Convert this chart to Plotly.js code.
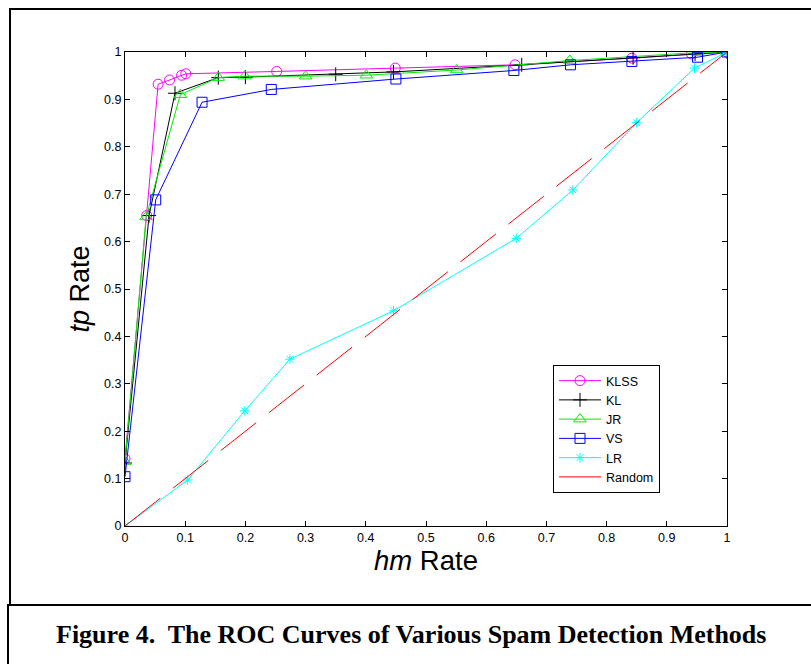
<!DOCTYPE html>
<html>
<head>
<meta charset="utf-8">
<script src="https://cdn.plot.ly/plotly-3.0.1.min.js"></script>
<style>html,body{margin:0;padding:0;background:#fff;}#chart{width:811px;height:664px;}</style>
</head>
<body>
<div id="chart"></div>
<script>
// ---- data ----
var klssX = [0, 0.036, 0.055, 0.074, 0.094, 0.101, 0.252, 0.449, 0.648, 0.842, 0.941, 1];
var klssY = [0.142, 0.655, 0.932, 0.941, 0.951, 0.954, 0.959, 0.966, 0.973, 0.987, 0.996, 1];

var klX = [0, 0.040, 0.083, 0.155, 0.200, 0.350, 0.446, 0.659, 0.844, 0.947, 1];
var klY = [0.133, 0.655, 0.913, 0.946, 0.947, 0.953, 0.958, 0.973, 0.988, 0.996, 1];

var jrX = [0, 0.035, 0.092, 0.155, 0.199, 0.300, 0.401, 0.551, 0.739, 0.952, 1];
var jrY = [0.136, 0.652, 0.910, 0.946, 0.949, 0.949, 0.951, 0.962, 0.982, 0.999, 1];

var vsX = [0, 0.051, 0.128, 0.243, 0.450, 0.646, 0.740, 0.842, 0.951, 1];
var vsY = [0.104, 0.688, 0.894, 0.921, 0.943, 0.961, 0.973, 0.980, 0.989, 1];

var lrX = [0, 0.104, 0.199, 0.274, 0.446, 0.650, 0.744, 0.850, 0.946, 1];
var lrY = [0, 0.097, 0.243, 0.352, 0.454, 0.607, 0.709, 0.851, 0.966, 1];

var randX = [0, 1];
var randY = [0, 1];

var seriesNames = ["KLSS", "KL", "JR", "VS", "LR", "Random"];
var xTitle = "<i>hm</i> Rate";
var yTitle = "<i>tp</i> Rate";
var caption = "Figure 4.  The ROC Curves of Various Spam Detection Methods";

// ---- layout helpers (pixel -> paper) ----
var W = 811, H = 664;
var L = 125, R = 727, T = 52, B = 526;
function px(x) { return (x - L) / (R - L); }
function py(y) { return (B - y) / (B - T); }

var font = "'Liberation Sans', Arial, Helvetica, sans-serif";

function tr(x, y, name, color, symbol, size) {
  return {
    x: x, y: y, name: name, type: "scatter", mode: "lines+markers",
    line: {color: color, width: 1},
    marker: {symbol: symbol, size: size, color: color, line: {color: color, width: 1}}
  };
}

var data = [
  tr(klssX, klssY, seriesNames[0], "#ff00ff", "circle-open", 10),
  tr(klX, klY, seriesNames[1], "#000000", "cross-thin-open", 10),
  tr(jrX, jrY, seriesNames[2], "#00ee00", "triangle-up-open", 11),
  tr(vsX, vsY, seriesNames[3], "#0000ff", "square-open", 10),
  tr(lrX, lrY, seriesNames[4], "#00ffff", "asterisk-open", 8),
  {x: randX, y: randY, name: seriesNames[5], type: "scatter", mode: "lines",
   line: {color: "#ff0000", width: 1, dash: "45px,16px"}}
];

var axisCommon = {
  range: [0, 1], dtick: 0.1, tick0: 0, showgrid: false, zeroline: false,
  showline: true, linecolor: "#000", linewidth: 1, mirror: "ticks",
  ticks: "inside", ticklen: 5, tickwidth: 1, tickcolor: "#000",
  tickfont: {family: font, size: 12.5, color: "#000"}, fixedrange: true
};

var layout = {
  width: W, height: H,
  margin: {l: L, r: W - R, t: T, b: H - B, pad: 0},
  paper_bgcolor: "#fff", plot_bgcolor: "#fff",
  showlegend: true,
  xaxis: Object.assign({}, axisCommon, {
    title: {text: xTitle, font: {family: font, size: 27.5, color: "#000"}, standoff: 5}
  }),
  yaxis: Object.assign({}, axisCommon, {
    title: {text: yTitle, font: {family: font, size: 27, color: "#000"}, standoff: 6}
  }),
  legend: {
    x: px(553), y: py(365), xanchor: "left", yanchor: "top",
    bgcolor: "#fff", bordercolor: "#000", borderwidth: 1,
    font: {family: font, size: 12.5, color: "#000"},
    itemwidth: 42, tracegroupgap: 0
  },
  shapes: [
    {type: "line", xref: "paper", yref: "paper", x0: px(9), x1: px(811), y0: py(9), y1: py(9), line: {color: "#000", width: 2}},
    {type: "line", xref: "paper", yref: "paper", x0: px(10), x1: px(10), y0: py(8), y1: py(605), line: {color: "#000", width: 2}},
    {type: "line", xref: "paper", yref: "paper", x0: px(7), x1: px(811), y0: py(605), y1: py(605), line: {color: "#000", width: 2}},
    {type: "line", xref: "paper", yref: "paper", x0: px(8), x1: px(8), y0: py(605), y1: py(664), line: {color: "#000", width: 2}}
  ],
  annotations: [
    {text: "<b>" + caption + "</b>", xref: "paper", yref: "paper", x: px(411), y: py(634),
     xanchor: "center", yanchor: "middle", showarrow: false,
     font: {family: "'Liberation Serif', 'Times New Roman', serif", size: 26, color: "#000"}}
  ]
};

Plotly.newPlot("chart", data, layout, {displayModeBar: false, staticPlot: true});
</script>
</body>
</html>
